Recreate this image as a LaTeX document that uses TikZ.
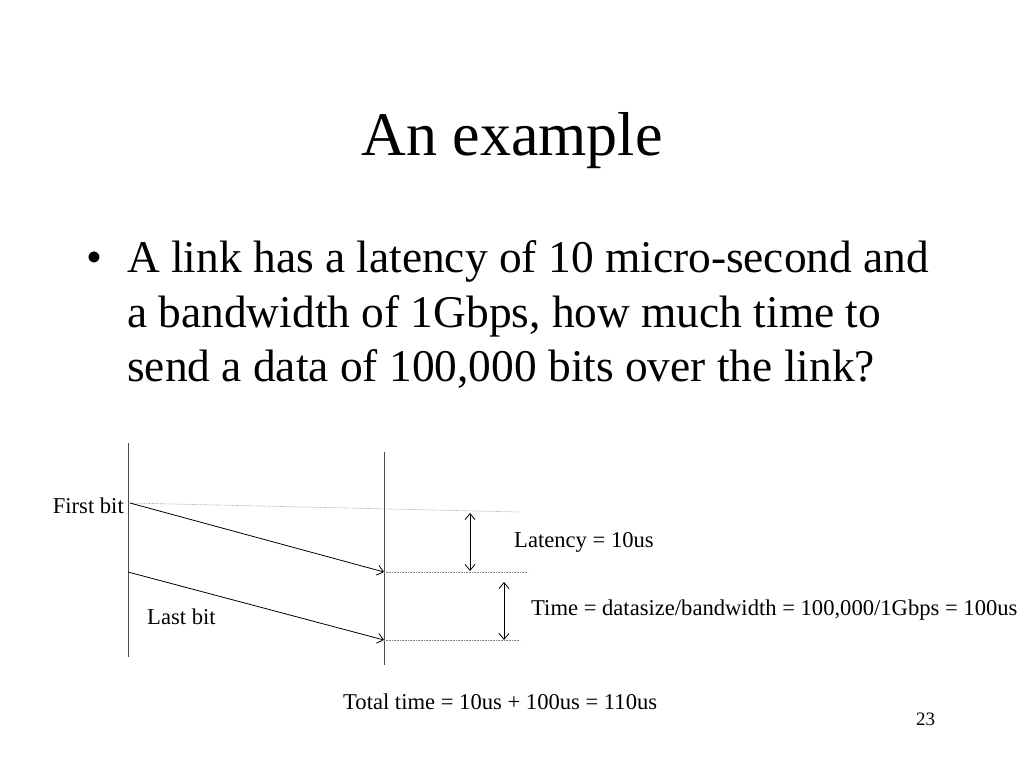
\documentclass[tikz,border=0pt]{standalone}
\usepackage{fontspec}
\setmainfont{Liberation Serif}
\usetikzlibrary{arrows.meta}
\begin{document}
\begin{tikzpicture}[x=1pt,y=-1pt,
  lbl/.style={inner sep=0pt,anchor=base west,font=\fontsize{22.6}{26}\selectfont},
  body/.style={inner sep=0pt,anchor=base west,font=\fontsize{45.4}{52}\selectfont},
  dotl/.style={densely dotted,gray,line width=0.6pt},
  tl/.style={line width=0.8pt,gray!60!black},
  arr/.style={-{Straight Barb[length=6pt,width=10pt]},line width=0.8pt}]
\useasboundingbox (0,0) rectangle (1024,768);
\node[inner sep=0pt,anchor=base,font=\fontsize{62}{70}\selectfont] (title) at (512,155) {An example};
\node[body] (bul) at (86,272) {\textbullet};
\node[body] (l1) at (127,272) {A link has a latency of 10 micro-second and};
\node[body] (l2) at (127,327) {a bandwidth of 1Gbps, how much time to};
\node[body] (l3) at (127,381) {send a data of 100,000 bits over the link?};
\coordinate (la) at (128,443); \coordinate (lb) at (128,657);
\coordinate (ra) at (384,452); \coordinate (rb) at (384,665);
\draw[tl] (la) -- (lb);
\draw[tl] (ra) -- (rb);
\coordinate (f0) at (130,503); \coordinate (f1) at (520,512);
\coordinate (r1) at (384,572); \coordinate (r1e) at (528,572);
\coordinate (s0) at (128,572); \coordinate (r2) at (384,640); \coordinate (r2e) at (520,640);
\draw[dotl] (f0) -- (f1);
\draw[dotl] (r1) -- (r1e);
\draw[dotl] (r2) -- (r2e);
\draw[arr] (f0) -- (r1);
\draw[arr] (s0) -- (r2);
\coordinate (a1) at (470,513); \coordinate (a2) at (470,571);
\coordinate (b1) at (504,582); \coordinate (b2) at (504,640);
\draw[arr,{Straight Barb[length=6pt,width=10pt]}-{Straight Barb[length=6pt,width=10pt]}] (a1) -- (a2);
\draw[arr,{Straight Barb[length=6pt,width=10pt]}-{Straight Barb[length=6pt,width=10pt]}] (b1) -- (b2);
\node[lbl,anchor=base east] (fb) at (124,513) {First bit};
\node[lbl] (lb2) at (147,624) {Last bit};
\node[lbl] (lat) at (514,547) {Latency = 10us};
\node[lbl] (tm) at (531,615) {Time = datasize/bandwidth = 100,000/1Gbps = 100us};
\node[lbl] (tot) at (343,709) {Total time = 10us + 100us = 110us};
\node[lbl,font=\fontsize{19}{22}\selectfont] (pg) at (916,725) {23};
\end{tikzpicture}
\end{document}
